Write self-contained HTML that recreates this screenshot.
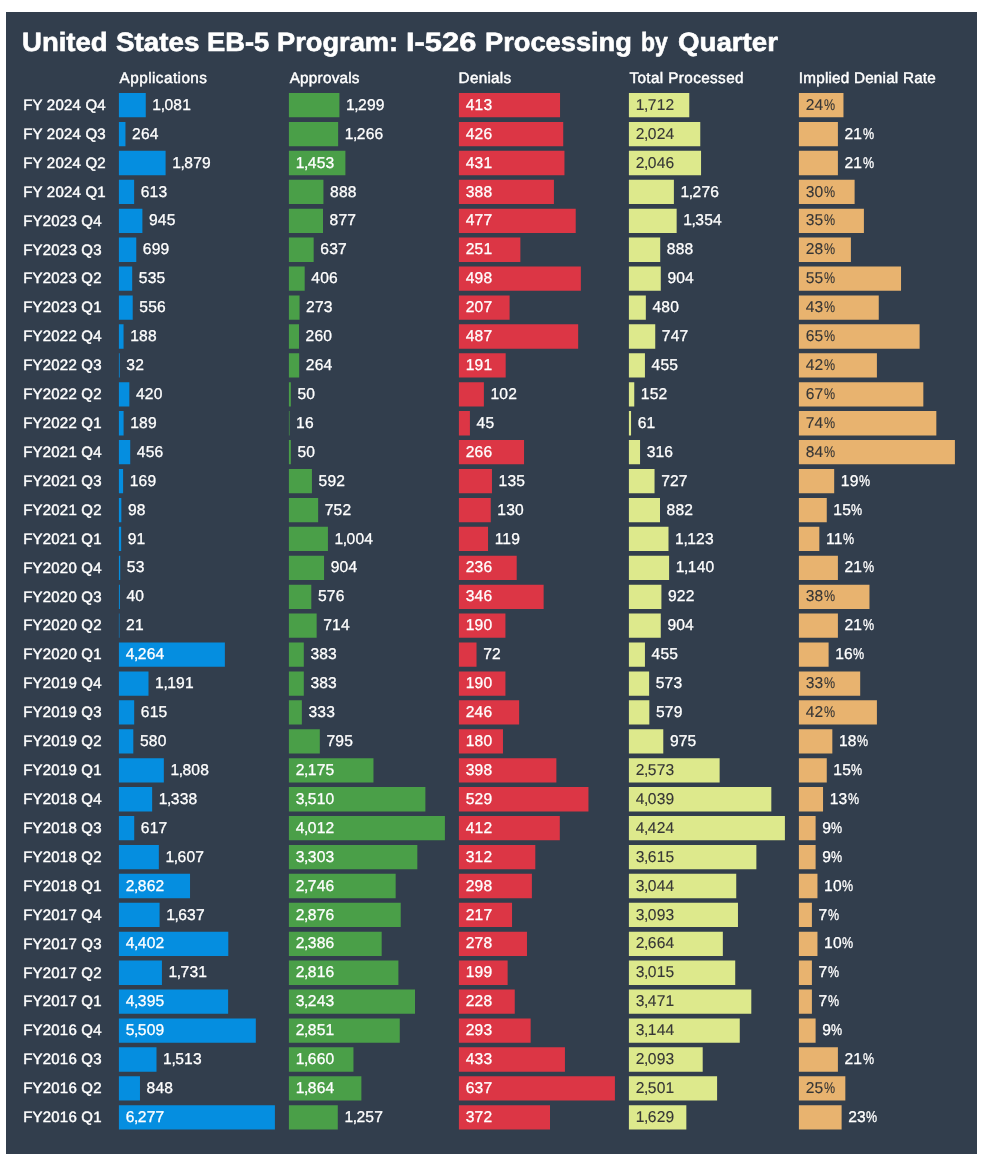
<!DOCTYPE html>
<html><head><meta charset="utf-8"><title>EB-5 I-526 Processing by Quarter</title>
<style>
html,body{margin:0;padding:0;background:#fff;}
body{width:983px;height:1154px;position:relative;overflow:hidden;font-family:"Liberation Sans",sans-serif;text-rendering:geometricPrecision;}
#wrap{position:absolute;left:0;top:0;width:983px;height:1154px;filter:blur(0.5px);}
#panel{position:absolute;left:6px;top:12px;width:971px;height:1142px;background:#323e4d;}
.t{position:absolute;white-space:nowrap;color:#fff;line-height:1;}
.tw{top:29.1px;font-size:26.4px;font-weight:bold;transform-origin:0 0;-webkit-text-stroke:0.6px #fff;}
.h{font-size:15.3px;top:71.0px;-webkit-text-stroke:0.45px #fff;}
.l{font-size:15.0px;left:23.2px;letter-spacing:0.2px;-webkit-text-stroke:0.45px #fff;}
.v{font-size:15.6px;letter-spacing:0.2px;-webkit-text-stroke:0.3px #fff;}
.v i{font-style:normal;margin:0 -0.75px 0 -0.6px;}
.v u{text-decoration:none;display:inline-block;transform:scaleX(0.8);transform-origin:0 50%;margin-left:0.3px;}
.d{color:#363636;-webkit-text-stroke:0.12px #363636;}
</style></head><body>
<div id="wrap">
<div id="panel"></div>

<div class="t tw" style="left:22.39px;transform:scaleX(1.0431)">United</div>
<div class="t tw" style="left:116.31px;transform:scaleX(1.053)">States</div>
<div class="t tw" style="left:207.39px;transform:scaleX(1.0363)">EB-5</div>
<div class="t tw" style="left:277.39px;transform:scaleX(1.0327)">Program:</div>
<div class="t tw" style="left:405.66px;transform:scaleX(1.1684)">I-526</div>
<div class="t tw" style="left:485.19px;transform:scaleX(1.0324)">Processing</div>
<div class="t tw" style="left:640.57px;transform:scaleX(0.8724)">by</div>
<div class="t tw" style="left:677.6px;transform:scaleX(1.0489)">Quarter</div>
<div class="t h" style="left:119.6px;letter-spacing:0.445px">Applications</div>
<div class="t h" style="left:289.7px;letter-spacing:0.225px">Approvals</div>
<div class="t h" style="left:458.6px;letter-spacing:0.25px">Denials</div>
<div class="t h" style="left:629.4px;letter-spacing:0.379px">Total Processed</div>
<div class="t h" style="left:798.8px;letter-spacing:0.194px">Implied Denial Rate</div>
<svg width="983" height="1154" viewBox="0 0 983 1154" style="position:absolute;left:0;top:0"><path fill="#058ee0" d="M118.90 93.00h26.87v24.3h-26.87zM118.90 121.92h6.56v24.3h-6.56zM118.90 150.84h46.70v24.3h-46.70zM118.90 179.76h15.23v24.3h-15.23zM118.90 208.68h23.49v24.3h-23.49zM118.90 237.60h17.37v24.3h-17.37zM118.90 266.52h13.30v24.3h-13.30zM118.90 295.44h13.82v24.3h-13.82zM118.90 324.36h4.67v24.3h-4.67zM118.90 353.28h0.80v24.3h-0.80zM118.90 382.20h10.44v24.3h-10.44zM118.90 411.12h4.70v24.3h-4.70zM118.90 440.04h11.33v24.3h-11.33zM118.90 468.96h4.20v24.3h-4.20zM118.90 497.88h2.44v24.3h-2.44zM118.90 526.80h2.26v24.3h-2.26zM118.90 555.72h1.32v24.3h-1.32zM118.90 584.64h0.99v24.3h-0.99zM118.90 613.56h0.52v24.3h-0.52zM118.90 642.48h105.97v24.3h-105.97zM118.90 671.40h29.60v24.3h-29.60zM118.90 700.32h15.28v24.3h-15.28zM118.90 729.24h14.41v24.3h-14.41zM118.90 758.16h44.93v24.3h-44.93zM118.90 787.08h33.25v24.3h-33.25zM118.90 816.00h15.33v24.3h-15.33zM118.90 844.92h39.94v24.3h-39.94zM118.90 873.84h71.13v24.3h-71.13zM118.90 902.76h40.68v24.3h-40.68zM118.90 931.68h109.40v24.3h-109.40zM118.90 960.60h43.02v24.3h-43.02zM118.90 989.52h109.23v24.3h-109.23zM118.90 1018.44h136.91v24.3h-136.91zM118.90 1047.36h37.60v24.3h-37.60zM118.90 1076.28h21.08v24.3h-21.08zM118.90 1105.20h156.00v24.3h-156.00z"/><path fill="#4a9f48" d="M288.90 93.00h50.51v24.3h-50.51zM288.90 121.92h49.23v24.3h-49.23zM288.90 150.84h56.50v24.3h-56.50zM288.90 179.76h34.53v24.3h-34.53zM288.90 208.68h34.10v24.3h-34.10zM288.90 237.60h24.77v24.3h-24.77zM288.90 266.52h15.79v24.3h-15.79zM288.90 295.44h10.62v24.3h-10.62zM288.90 324.36h10.11v24.3h-10.11zM288.90 353.28h10.27v24.3h-10.27zM288.90 382.20h1.94v24.3h-1.94zM288.90 411.12h0.62v24.3h-0.62zM288.90 440.04h1.94v24.3h-1.94zM288.90 468.96h23.02v24.3h-23.02zM288.90 497.88h29.24v24.3h-29.24zM288.90 526.80h39.04v24.3h-39.04zM288.90 555.72h35.15v24.3h-35.15zM288.90 584.64h22.40v24.3h-22.40zM288.90 613.56h27.76v24.3h-27.76zM288.90 642.48h14.89v24.3h-14.89zM288.90 671.40h14.89v24.3h-14.89zM288.90 700.32h12.95v24.3h-12.95zM288.90 729.24h30.91v24.3h-30.91zM288.90 758.16h84.57v24.3h-84.57zM288.90 787.08h136.48v24.3h-136.48zM288.90 816.00h156.00v24.3h-156.00zM288.90 844.92h128.43v24.3h-128.43zM288.90 873.84h106.77v24.3h-106.77zM288.90 902.76h111.83v24.3h-111.83zM288.90 931.68h92.78v24.3h-92.78zM288.90 960.60h109.50v24.3h-109.50zM288.90 989.52h126.10v24.3h-126.10zM288.90 1018.44h110.86v24.3h-110.86zM288.90 1047.36h64.55v24.3h-64.55zM288.90 1076.28h72.48v24.3h-72.48zM288.90 1105.20h48.88v24.3h-48.88z"/><path fill="#dc3645" d="M458.90 93.00h101.14v24.3h-101.14zM458.90 121.92h104.33v24.3h-104.33zM458.90 150.84h105.55v24.3h-105.55zM458.90 179.76h95.02v24.3h-95.02zM458.90 208.68h116.82v24.3h-116.82zM458.90 237.60h61.47v24.3h-61.47zM458.90 266.52h121.96v24.3h-121.96zM458.90 295.44h50.69v24.3h-50.69zM458.90 324.36h119.27v24.3h-119.27zM458.90 353.28h46.78v24.3h-46.78zM458.90 382.20h24.98v24.3h-24.98zM458.90 411.12h11.02v24.3h-11.02zM458.90 440.04h65.14v24.3h-65.14zM458.90 468.96h33.06v24.3h-33.06zM458.90 497.88h31.84v24.3h-31.84zM458.90 526.80h29.14v24.3h-29.14zM458.90 555.72h57.80v24.3h-57.80zM458.90 584.64h84.73v24.3h-84.73zM458.90 613.56h46.53v24.3h-46.53zM458.90 642.48h17.63v24.3h-17.63zM458.90 671.40h46.53v24.3h-46.53zM458.90 700.32h60.24v24.3h-60.24zM458.90 729.24h44.08v24.3h-44.08zM458.90 758.16h97.47v24.3h-97.47zM458.90 787.08h129.55v24.3h-129.55zM458.90 816.00h100.90v24.3h-100.90zM458.90 844.92h76.41v24.3h-76.41zM458.90 873.84h72.98v24.3h-72.98zM458.90 902.76h53.14v24.3h-53.14zM458.90 931.68h68.08v24.3h-68.08zM458.90 960.60h48.73v24.3h-48.73zM458.90 989.52h55.84v24.3h-55.84zM458.90 1018.44h71.76v24.3h-71.76zM458.90 1047.36h106.04v24.3h-106.04zM458.90 1076.28h156.00v24.3h-156.00zM458.90 1105.20h91.10v24.3h-91.10z"/><path fill="#dde98c" d="M628.90 93.00h60.37v24.3h-60.37zM628.90 121.92h71.37v24.3h-71.37zM628.90 150.84h72.15v24.3h-72.15zM628.90 179.76h44.99v24.3h-44.99zM628.90 208.68h47.75v24.3h-47.75zM628.90 237.60h31.31v24.3h-31.31zM628.90 266.52h31.88v24.3h-31.88zM628.90 295.44h16.93v24.3h-16.93zM628.90 324.36h26.34v24.3h-26.34zM628.90 353.28h16.04v24.3h-16.04zM628.90 382.20h5.36v24.3h-5.36zM628.90 411.12h2.15v24.3h-2.15zM628.90 440.04h11.14v24.3h-11.14zM628.90 468.96h25.64v24.3h-25.64zM628.90 497.88h31.10v24.3h-31.10zM628.90 526.80h39.60v24.3h-39.60zM628.90 555.72h40.20v24.3h-40.20zM628.90 584.64h32.51v24.3h-32.51zM628.90 613.56h31.88v24.3h-31.88zM628.90 642.48h16.04v24.3h-16.04zM628.90 671.40h20.21v24.3h-20.21zM628.90 700.32h20.42v24.3h-20.42zM628.90 729.24h34.38v24.3h-34.38zM628.90 758.16h90.73v24.3h-90.73zM628.90 787.08h142.42v24.3h-142.42zM628.90 816.00h156.00v24.3h-156.00zM628.90 844.92h127.47v24.3h-127.47zM628.90 873.84h107.34v24.3h-107.34zM628.90 902.76h109.07v24.3h-109.07zM628.90 931.68h93.94v24.3h-93.94zM628.90 960.60h106.32v24.3h-106.32zM628.90 989.52h122.40v24.3h-122.40zM628.90 1018.44h110.86v24.3h-110.86zM628.90 1047.36h73.80v24.3h-73.80zM628.90 1076.28h88.19v24.3h-88.19zM628.90 1105.20h57.44v24.3h-57.44z"/><path fill="#e8b36f" d="M798.90 93.00h44.57v24.3h-44.57zM798.90 121.92h39.00v24.3h-39.00zM798.90 150.84h39.00v24.3h-39.00zM798.90 179.76h55.71v24.3h-55.71zM798.90 208.68h65.00v24.3h-65.00zM798.90 237.60h52.00v24.3h-52.00zM798.90 266.52h102.14v24.3h-102.14zM798.90 295.44h79.86v24.3h-79.86zM798.90 324.36h120.71v24.3h-120.71zM798.90 353.28h78.00v24.3h-78.00zM798.90 382.20h124.43v24.3h-124.43zM798.90 411.12h137.43v24.3h-137.43zM798.90 440.04h156.00v24.3h-156.00zM798.90 468.96h35.29v24.3h-35.29zM798.90 497.88h27.86v24.3h-27.86zM798.90 526.80h20.43v24.3h-20.43zM798.90 555.72h39.00v24.3h-39.00zM798.90 584.64h70.57v24.3h-70.57zM798.90 613.56h39.00v24.3h-39.00zM798.90 642.48h29.71v24.3h-29.71zM798.90 671.40h61.29v24.3h-61.29zM798.90 700.32h78.00v24.3h-78.00zM798.90 729.24h33.43v24.3h-33.43zM798.90 758.16h27.86v24.3h-27.86zM798.90 787.08h24.14v24.3h-24.14zM798.90 816.00h16.71v24.3h-16.71zM798.90 844.92h16.71v24.3h-16.71zM798.90 873.84h18.57v24.3h-18.57zM798.90 902.76h13.00v24.3h-13.00zM798.90 931.68h18.57v24.3h-18.57zM798.90 960.60h13.00v24.3h-13.00zM798.90 989.52h13.00v24.3h-13.00zM798.90 1018.44h16.71v24.3h-16.71zM798.90 1047.36h39.00v24.3h-39.00zM798.90 1076.28h46.43v24.3h-46.43zM798.90 1105.20h42.71v24.3h-42.71z"/></svg>
<div class="t l" style="top:97.90px">FY 2024 Q4</div>
<div class="t v" style="left:152.37px;top:97.75px">1<i>,</i>081</div>
<div class="t v" style="left:346.01px;top:97.75px">1<i>,</i>299</div>
<div class="t v" style="left:465.70px;top:97.75px">413</div>
<div class="t v d" style="left:635.70px;top:97.75px">1<i>,</i>712</div>
<div class="t v d" style="left:805.70px;top:97.75px">24<u>%</u></div>
<div class="t l" style="top:126.82px">FY 2024 Q3</div>
<div class="t v" style="left:132.06px;top:126.67px">264</div>
<div class="t v" style="left:344.73px;top:126.67px">1<i>,</i>266</div>
<div class="t v" style="left:465.70px;top:126.67px">426</div>
<div class="t v d" style="left:635.70px;top:126.67px">2<i>,</i>024</div>
<div class="t v" style="left:844.50px;top:126.67px">21<u>%</u></div>
<div class="t l" style="top:155.74px">FY 2024 Q2</div>
<div class="t v" style="left:172.20px;top:155.59px">1<i>,</i>879</div>
<div class="t v" style="left:295.70px;top:155.59px">1<i>,</i>453</div>
<div class="t v" style="left:465.70px;top:155.59px">431</div>
<div class="t v d" style="left:635.70px;top:155.59px">2<i>,</i>046</div>
<div class="t v" style="left:844.50px;top:155.59px">21<u>%</u></div>
<div class="t l" style="top:184.66px">FY 2024 Q1</div>
<div class="t v" style="left:140.73px;top:184.51px">613</div>
<div class="t v" style="left:330.03px;top:184.51px">888</div>
<div class="t v" style="left:465.70px;top:184.51px">388</div>
<div class="t v" style="left:680.49px;top:184.51px">1<i>,</i>276</div>
<div class="t v d" style="left:805.70px;top:184.51px">30<u>%</u></div>
<div class="t l" style="top:213.58px">FY2023 Q4</div>
<div class="t v" style="left:148.99px;top:213.43px">945</div>
<div class="t v" style="left:329.60px;top:213.43px">877</div>
<div class="t v" style="left:465.70px;top:213.43px">477</div>
<div class="t v" style="left:683.25px;top:213.43px">1<i>,</i>354</div>
<div class="t v d" style="left:805.70px;top:213.43px">35<u>%</u></div>
<div class="t l" style="top:242.50px">FY2023 Q3</div>
<div class="t v" style="left:142.87px;top:242.35px">699</div>
<div class="t v" style="left:320.27px;top:242.35px">637</div>
<div class="t v" style="left:465.70px;top:242.35px">251</div>
<div class="t v" style="left:666.81px;top:242.35px">888</div>
<div class="t v d" style="left:805.70px;top:242.35px">28<u>%</u></div>
<div class="t l" style="top:271.42px">FY2023 Q2</div>
<div class="t v" style="left:138.80px;top:271.27px">535</div>
<div class="t v" style="left:311.29px;top:271.27px">406</div>
<div class="t v" style="left:465.70px;top:271.27px">498</div>
<div class="t v" style="left:667.38px;top:271.27px">904</div>
<div class="t v d" style="left:805.70px;top:271.27px">55<u>%</u></div>
<div class="t l" style="top:300.34px">FY2023 Q1</div>
<div class="t v" style="left:139.32px;top:300.19px">556</div>
<div class="t v" style="left:306.12px;top:300.19px">273</div>
<div class="t v" style="left:465.70px;top:300.19px">207</div>
<div class="t v" style="left:652.43px;top:300.19px">480</div>
<div class="t v d" style="left:805.70px;top:300.19px">43<u>%</u></div>
<div class="t l" style="top:329.26px">FY2022 Q4</div>
<div class="t v" style="left:130.17px;top:329.11px">188</div>
<div class="t v" style="left:305.61px;top:329.11px">260</div>
<div class="t v" style="left:465.70px;top:329.11px">487</div>
<div class="t v" style="left:661.84px;top:329.11px">747</div>
<div class="t v d" style="left:805.70px;top:329.11px">65<u>%</u></div>
<div class="t l" style="top:358.18px">FY2022 Q3</div>
<div class="t v" style="left:126.30px;top:358.03px">32</div>
<div class="t v" style="left:305.77px;top:358.03px">264</div>
<div class="t v" style="left:465.70px;top:358.03px">191</div>
<div class="t v" style="left:651.54px;top:358.03px">455</div>
<div class="t v d" style="left:805.70px;top:358.03px">42<u>%</u></div>
<div class="t l" style="top:387.10px">FY2022 Q2</div>
<div class="t v" style="left:135.94px;top:386.95px">420</div>
<div class="t v" style="left:297.44px;top:386.95px">50</div>
<div class="t v" style="left:490.48px;top:386.95px">102</div>
<div class="t v" style="left:640.86px;top:386.95px">152</div>
<div class="t v d" style="left:805.70px;top:386.95px">67<u>%</u></div>
<div class="t l" style="top:416.02px">FY2022 Q1</div>
<div class="t v" style="left:130.20px;top:415.87px">189</div>
<div class="t v" style="left:296.12px;top:415.87px">16</div>
<div class="t v" style="left:476.52px;top:415.87px">45</div>
<div class="t v" style="left:637.65px;top:415.87px">61</div>
<div class="t v d" style="left:805.70px;top:415.87px">74<u>%</u></div>
<div class="t l" style="top:444.94px">FY2021 Q4</div>
<div class="t v" style="left:136.83px;top:444.79px">456</div>
<div class="t v" style="left:297.44px;top:444.79px">50</div>
<div class="t v" style="left:465.70px;top:444.79px">266</div>
<div class="t v" style="left:646.64px;top:444.79px">316</div>
<div class="t v d" style="left:805.70px;top:444.79px">84<u>%</u></div>
<div class="t l" style="top:473.86px">FY2021 Q3</div>
<div class="t v" style="left:129.70px;top:473.71px">169</div>
<div class="t v" style="left:318.52px;top:473.71px">592</div>
<div class="t v" style="left:498.56px;top:473.71px">135</div>
<div class="t v" style="left:661.14px;top:473.71px">727</div>
<div class="t v" style="left:840.79px;top:473.71px">19<u>%</u></div>
<div class="t l" style="top:502.78px">FY2021 Q2</div>
<div class="t v" style="left:127.94px;top:502.63px">98</div>
<div class="t v" style="left:324.74px;top:502.63px">752</div>
<div class="t v" style="left:497.34px;top:502.63px">130</div>
<div class="t v" style="left:666.60px;top:502.63px">882</div>
<div class="t v" style="left:833.36px;top:502.63px">15<u>%</u></div>
<div class="t l" style="top:531.70px">FY2021 Q1</div>
<div class="t v" style="left:127.76px;top:531.55px">91</div>
<div class="t v" style="left:334.54px;top:531.55px">1<i>,</i>004</div>
<div class="t v" style="left:494.64px;top:531.55px">119</div>
<div class="t v" style="left:675.10px;top:531.55px">1<i>,</i>123</div>
<div class="t v" style="left:825.93px;top:531.55px">11<u>%</u></div>
<div class="t l" style="top:560.62px">FY2020 Q4</div>
<div class="t v" style="left:126.82px;top:560.47px">53</div>
<div class="t v" style="left:330.65px;top:560.47px">904</div>
<div class="t v" style="left:465.70px;top:560.47px">236</div>
<div class="t v" style="left:675.70px;top:560.47px">1<i>,</i>140</div>
<div class="t v" style="left:844.50px;top:560.47px">21<u>%</u></div>
<div class="t l" style="top:589.54px">FY2020 Q3</div>
<div class="t v" style="left:126.49px;top:589.39px">40</div>
<div class="t v" style="left:317.90px;top:589.39px">576</div>
<div class="t v" style="left:465.70px;top:589.39px">346</div>
<div class="t v" style="left:668.01px;top:589.39px">922</div>
<div class="t v d" style="left:805.70px;top:589.39px">38<u>%</u></div>
<div class="t l" style="top:618.46px">FY2020 Q2</div>
<div class="t v" style="left:126.02px;top:618.31px">21</div>
<div class="t v" style="left:323.26px;top:618.31px">714</div>
<div class="t v" style="left:465.70px;top:618.31px">190</div>
<div class="t v" style="left:667.38px;top:618.31px">904</div>
<div class="t v" style="left:844.50px;top:618.31px">21<u>%</u></div>
<div class="t l" style="top:647.38px">FY2020 Q1</div>
<div class="t v" style="left:125.70px;top:647.23px">4<i>,</i>264</div>
<div class="t v" style="left:310.39px;top:647.23px">383</div>
<div class="t v" style="left:483.13px;top:647.23px">72</div>
<div class="t v" style="left:651.54px;top:647.23px">455</div>
<div class="t v" style="left:835.21px;top:647.23px">16<u>%</u></div>
<div class="t l" style="top:676.30px">FY2019 Q4</div>
<div class="t v" style="left:155.10px;top:676.15px">1<i>,</i>191</div>
<div class="t v" style="left:310.39px;top:676.15px">383</div>
<div class="t v" style="left:465.70px;top:676.15px">190</div>
<div class="t v" style="left:655.71px;top:676.15px">573</div>
<div class="t v d" style="left:805.70px;top:676.15px">33<u>%</u></div>
<div class="t l" style="top:705.22px">FY2019 Q3</div>
<div class="t v" style="left:140.78px;top:705.07px">615</div>
<div class="t v" style="left:308.45px;top:705.07px">333</div>
<div class="t v" style="left:465.70px;top:705.07px">246</div>
<div class="t v" style="left:655.92px;top:705.07px">579</div>
<div class="t v d" style="left:805.70px;top:705.07px">42<u>%</u></div>
<div class="t l" style="top:734.14px">FY2019 Q2</div>
<div class="t v" style="left:139.91px;top:733.99px">580</div>
<div class="t v" style="left:326.41px;top:733.99px">795</div>
<div class="t v" style="left:465.70px;top:733.99px">180</div>
<div class="t v" style="left:669.88px;top:733.99px">975</div>
<div class="t v" style="left:838.93px;top:733.99px">18<u>%</u></div>
<div class="t l" style="top:763.06px">FY2019 Q1</div>
<div class="t v" style="left:170.43px;top:762.91px">1<i>,</i>808</div>
<div class="t v" style="left:295.70px;top:762.91px">2<i>,</i>175</div>
<div class="t v" style="left:465.70px;top:762.91px">398</div>
<div class="t v d" style="left:635.70px;top:762.91px">2<i>,</i>573</div>
<div class="t v" style="left:833.36px;top:762.91px">15<u>%</u></div>
<div class="t l" style="top:791.98px">FY2018 Q4</div>
<div class="t v" style="left:158.75px;top:791.83px">1<i>,</i>338</div>
<div class="t v" style="left:295.70px;top:791.83px">3<i>,</i>510</div>
<div class="t v" style="left:465.70px;top:791.83px">529</div>
<div class="t v d" style="left:635.70px;top:791.83px">4<i>,</i>039</div>
<div class="t v" style="left:829.64px;top:791.83px">13<u>%</u></div>
<div class="t l" style="top:820.90px">FY2018 Q3</div>
<div class="t v" style="left:140.83px;top:820.75px">617</div>
<div class="t v" style="left:295.70px;top:820.75px">4<i>,</i>012</div>
<div class="t v" style="left:465.70px;top:820.75px">412</div>
<div class="t v d" style="left:635.70px;top:820.75px">4<i>,</i>424</div>
<div class="t v" style="left:822.21px;top:820.75px">9<u>%</u></div>
<div class="t l" style="top:849.82px">FY2018 Q2</div>
<div class="t v" style="left:165.44px;top:849.67px">1<i>,</i>607</div>
<div class="t v" style="left:295.70px;top:849.67px">3<i>,</i>303</div>
<div class="t v" style="left:465.70px;top:849.67px">312</div>
<div class="t v d" style="left:635.70px;top:849.67px">3<i>,</i>615</div>
<div class="t v" style="left:822.21px;top:849.67px">9<u>%</u></div>
<div class="t l" style="top:878.74px">FY2018 Q1</div>
<div class="t v" style="left:125.70px;top:878.59px">2<i>,</i>862</div>
<div class="t v" style="left:295.70px;top:878.59px">2<i>,</i>746</div>
<div class="t v" style="left:465.70px;top:878.59px">298</div>
<div class="t v d" style="left:635.70px;top:878.59px">3<i>,</i>044</div>
<div class="t v" style="left:824.07px;top:878.59px">10<u>%</u></div>
<div class="t l" style="top:907.66px">FY2017 Q4</div>
<div class="t v" style="left:166.18px;top:907.51px">1<i>,</i>637</div>
<div class="t v" style="left:295.70px;top:907.51px">2<i>,</i>876</div>
<div class="t v" style="left:465.70px;top:907.51px">217</div>
<div class="t v d" style="left:635.70px;top:907.51px">3<i>,</i>093</div>
<div class="t v" style="left:818.50px;top:907.51px">7<u>%</u></div>
<div class="t l" style="top:936.58px">FY2017 Q3</div>
<div class="t v" style="left:125.70px;top:936.43px">4<i>,</i>402</div>
<div class="t v" style="left:295.70px;top:936.43px">2<i>,</i>386</div>
<div class="t v" style="left:465.70px;top:936.43px">278</div>
<div class="t v d" style="left:635.70px;top:936.43px">2<i>,</i>664</div>
<div class="t v" style="left:824.07px;top:936.43px">10<u>%</u></div>
<div class="t l" style="top:965.50px">FY2017 Q2</div>
<div class="t v" style="left:168.52px;top:965.35px">1<i>,</i>731</div>
<div class="t v" style="left:295.70px;top:965.35px">2<i>,</i>816</div>
<div class="t v" style="left:465.70px;top:965.35px">199</div>
<div class="t v d" style="left:635.70px;top:965.35px">3<i>,</i>015</div>
<div class="t v" style="left:818.50px;top:965.35px">7<u>%</u></div>
<div class="t l" style="top:994.42px">FY2017 Q1</div>
<div class="t v" style="left:125.70px;top:994.27px">4<i>,</i>395</div>
<div class="t v" style="left:295.70px;top:994.27px">3<i>,</i>243</div>
<div class="t v" style="left:465.70px;top:994.27px">228</div>
<div class="t v d" style="left:635.70px;top:994.27px">3<i>,</i>471</div>
<div class="t v" style="left:818.50px;top:994.27px">7<u>%</u></div>
<div class="t l" style="top:1023.34px">FY2016 Q4</div>
<div class="t v" style="left:125.70px;top:1023.19px">5<i>,</i>509</div>
<div class="t v" style="left:295.70px;top:1023.19px">2<i>,</i>851</div>
<div class="t v" style="left:465.70px;top:1023.19px">293</div>
<div class="t v d" style="left:635.70px;top:1023.19px">3<i>,</i>144</div>
<div class="t v" style="left:822.21px;top:1023.19px">9<u>%</u></div>
<div class="t l" style="top:1052.26px">FY2016 Q3</div>
<div class="t v" style="left:163.10px;top:1052.11px">1<i>,</i>513</div>
<div class="t v" style="left:295.70px;top:1052.11px">1<i>,</i>660</div>
<div class="t v" style="left:465.70px;top:1052.11px">433</div>
<div class="t v d" style="left:635.70px;top:1052.11px">2<i>,</i>093</div>
<div class="t v" style="left:844.50px;top:1052.11px">21<u>%</u></div>
<div class="t l" style="top:1081.18px">FY2016 Q2</div>
<div class="t v" style="left:146.58px;top:1081.03px">848</div>
<div class="t v" style="left:295.70px;top:1081.03px">1<i>,</i>864</div>
<div class="t v" style="left:465.70px;top:1081.03px">637</div>
<div class="t v d" style="left:635.70px;top:1081.03px">2<i>,</i>501</div>
<div class="t v d" style="left:805.70px;top:1081.03px">25<u>%</u></div>
<div class="t l" style="top:1110.10px">FY2016 Q1</div>
<div class="t v" style="left:125.70px;top:1109.95px">6<i>,</i>277</div>
<div class="t v" style="left:344.38px;top:1109.95px">1<i>,</i>257</div>
<div class="t v" style="left:465.70px;top:1109.95px">372</div>
<div class="t v d" style="left:635.70px;top:1109.95px">1<i>,</i>629</div>
<div class="t v" style="left:848.21px;top:1109.95px">23<u>%</u></div>
</div>
</body></html>
